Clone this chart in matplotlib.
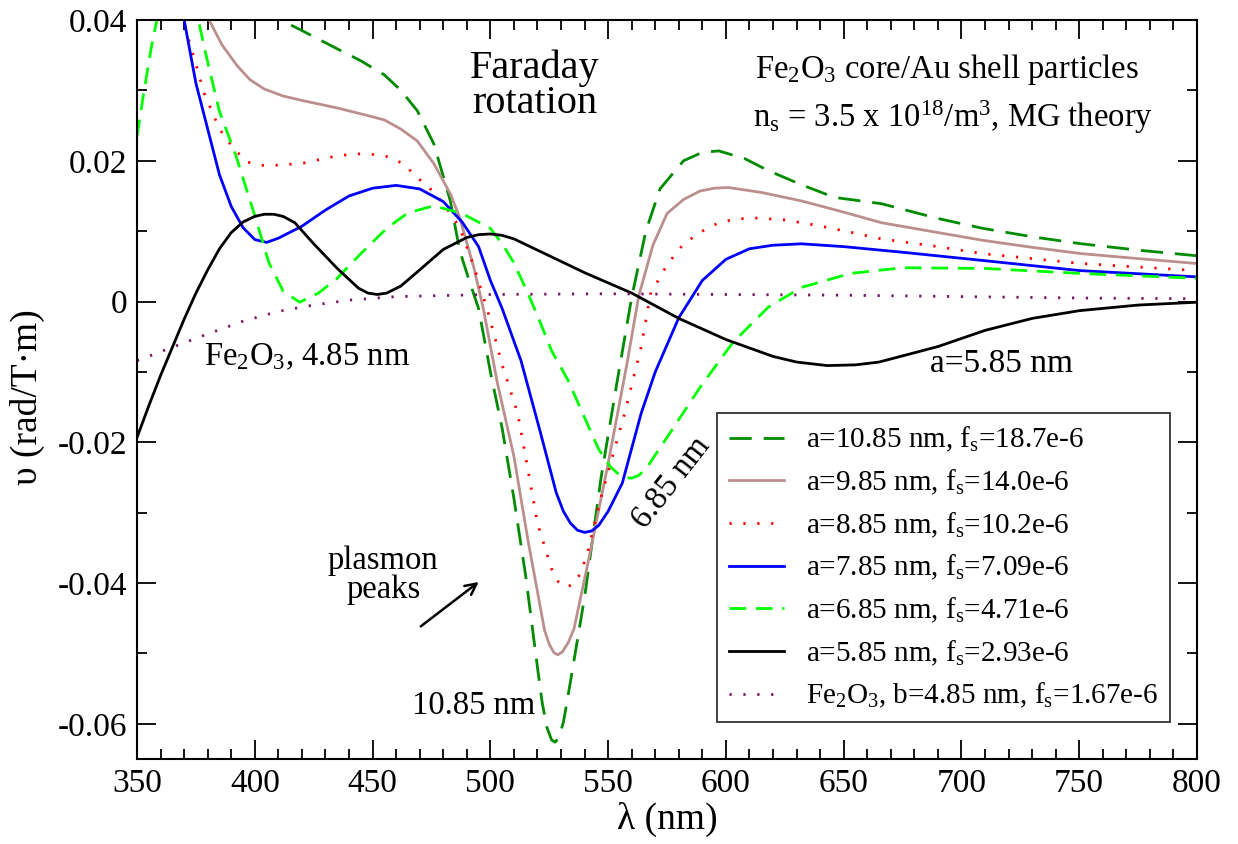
import numpy as np
import matplotlib
matplotlib.use("Agg")
import matplotlib.pyplot as plt
from matplotlib.ticker import MultipleLocator

plt.rcParams['font.family'] = ['Liberation Serif', 'DejaVu Serif']
plt.rcParams['mathtext.fontset'] = 'custom'
plt.rcParams['mathtext.rm'] = 'Liberation Serif'
plt.rcParams['mathtext.it'] = 'Liberation Serif:italic'
plt.rcParams['mathtext.bf'] = 'Liberation Serif:bold'

# ---- data (wavelength nm, rotation rad/T·m) ----
a1085_x = [405, 411, 420, 435, 445, 455, 462, 469, 476, 483, 487, 491, 495, 500, 505, 510, 515,
           520, 522, 524, 526, 527.5, 529, 531, 534, 540, 547, 554, 560, 566, 572, 582, 590, 597,
           608, 618, 632, 646, 666, 690, 709, 730, 751, 775, 800]
a1085_y = [0.0425, 0.040, 0.0385, 0.0359, 0.0342, 0.0322, 0.0300, 0.0271, 0.0224, 0.0143, 0.0072,
           0.0030, -0.0010, -0.0100, -0.0180, -0.0280, -0.0390, -0.0520, -0.0570, -0.0605,
           -0.0623, -0.0626, -0.0620, -0.0598, -0.0540, -0.0420, -0.0250, -0.0110, 0.0006, 0.0100,
           0.0160, 0.0200, 0.0212, 0.0214, 0.0203, 0.0186, 0.0166, 0.0148, 0.0139, 0.0118, 0.0104,
           0.0092, 0.0082, 0.0073, 0.0065]

a985_x = [376, 380.6, 386, 392.5, 398, 404, 412, 421, 435, 447, 455, 462, 469, 476, 483, 487, 493,
          497, 503, 510, 516, 523, 525, 527, 528.6, 530.5, 533, 535.5, 541.4, 550, 558, 563, 569,
          575, 582, 589, 595, 601, 615, 632, 650, 666, 690, 709, 730, 751, 775, 800]
a985_y = [0.047, 0.040, 0.0365, 0.0335, 0.0315, 0.0302, 0.0292, 0.0285, 0.0275, 0.0265, 0.0258,
          0.0245, 0.0228, 0.0196, 0.0153, 0.0119, 0.0048, -0.0010, -0.0116, -0.0220, -0.0340,
          -0.0467, -0.0487, -0.0499, -0.0502, -0.0498, -0.0485, -0.0465, -0.0372, -0.0230,
          -0.0088, 0.0008, 0.0080, 0.0125, 0.0145, 0.0157, 0.0161, 0.0162, 0.0155, 0.0143, 0.0127,
          0.0112, 0.0098, 0.0087, 0.0077, 0.0068, 0.0061, 0.0054]

a885_x = [368, 371, 378.5, 385, 391, 397, 404, 412, 421, 432, 442, 450, 456, 463, 469, 474, 479,
          483, 487, 493, 499, 505, 511.6, 516, 520, 526, 529, 532, 535, 538, 541, 547, 557, 564,
          568, 575, 582, 590, 597, 604, 611, 625, 639, 655, 666, 690, 709, 730, 751, 775, 800]
a885_y = [0.043, 0.0383, 0.0296, 0.0245, 0.0217, 0.0198, 0.0193, 0.0194, 0.0197, 0.0205, 0.0210,
          0.0209, 0.0206, 0.0196, 0.0176, 0.0162, 0.0143, 0.0125, 0.0105, 0.0050, -0.0015,
          -0.0090, -0.0159, -0.0240, -0.0315, -0.0380, -0.0399, -0.0406, -0.0402, -0.0388,
          -0.0360, -0.0278, -0.0159, -0.0065, 0.0011, 0.0052, 0.0082, 0.0100, 0.0112, 0.0117,
          0.0119, 0.0116, 0.0108, 0.0097, 0.0089, 0.0078, 0.0068, 0.0061, 0.0054, 0.0049, 0.0044]

a785_x = [365, 370, 375, 380, 385, 390, 395, 400, 405, 410, 420, 430, 440, 450, 460, 470, 480,
          488, 495, 500, 505, 513, 521, 528, 531, 534, 537, 540, 543, 546, 550, 556, 564, 570,
          580, 590, 600, 610, 620, 632, 650, 675, 710, 750, 800]
a785_y = [0.048, 0.040, 0.031, 0.0245, 0.0180, 0.0135, 0.0105, 0.0088, 0.0084, 0.0090, 0.0107,
          0.0130, 0.0150, 0.0161, 0.0165, 0.0160, 0.0142, 0.0113, 0.0078, 0.0030, -0.0010,
          -0.0084, -0.0183, -0.0272, -0.0298, -0.0315, -0.0325, -0.0328, -0.0326, -0.0318,
          -0.0298, -0.0258, -0.0159, -0.0100, -0.0023, 0.0030, 0.0060, 0.0075, 0.0080, 0.0082,
          0.0078, 0.0070, 0.0058, 0.0044, 0.0035]

a685_x = [350, 353, 356, 359, 362, 367, 372, 376, 380, 385, 392, 400, 406, 412, 419, 427, 435,
          445, 456, 465, 476, 488, 500, 505, 510, 516, 520, 526, 533, 540, 546, 551, 554, 557,
          560, 563, 566, 575, 589, 603, 618, 632, 653, 675, 710, 750, 800]
a685_y = [0.0235, 0.030, 0.036, 0.041, 0.045, 0.047, 0.045, 0.040, 0.034, 0.027, 0.0207, 0.0122,
          0.0055, 0.0015, -0.0001, 0.0012, 0.0033, 0.0068, 0.0104, 0.0126, 0.0136, 0.0125, 0.0104,
          0.0082, 0.0055, 0.0011, -0.0020, -0.0070, -0.0112, -0.0165, -0.0210, -0.0235, -0.0244,
          -0.0250, -0.0251, -0.0247, -0.0238, -0.0193, -0.0122, -0.0058, -0.0008, 0.0020, 0.0040,
          0.0048, 0.0047, 0.0040, 0.0033]

a585_x = [350, 355, 360, 365, 370, 375, 380, 385, 390, 395, 400, 404, 408, 412, 417, 425, 435,
          444, 448, 452, 456, 462, 470, 480, 490, 495, 500, 505, 510, 525, 540, 560, 580, 600,
          620, 630, 643, 655, 665, 690, 710, 730, 750, 775, 800]
a585_y = [-0.0193, -0.0148, -0.0105, -0.0065, -0.0025, 0.0012, 0.0045, 0.0075, 0.0098, 0.0113,
          0.0121, 0.0124, 0.0124, 0.0121, 0.0112, 0.0082, 0.0047, 0.0019, 0.0012, 0.0010, 0.0012,
          0.0022, 0.0045, 0.0074, 0.0091, 0.0095, 0.0096, 0.0094, 0.0089, 0.0065, 0.0041, 0.0012,
          -0.0024, -0.0054, -0.0078, -0.0086, -0.0091, -0.0090, -0.0086, -0.0064, -0.0041,
          -0.0024, -0.0013, -0.0005, -0.0001]

fe2o3_x = [350, 365, 380, 395, 410, 425, 440, 460, 500, 550, 600, 650, 700, 750, 800]
fe2o3_y = [-0.0084, -0.0065, -0.0046, -0.0028, -0.0014, -0.0005, 0.0002, 0.0007, 0.0010, 0.0011,
           0.0010, 0.0009, 0.0007, 0.0005, 0.0004]

labels = [r"a=10.85 nm, f$_\mathrm{s}$=18.7e-6",
          r"a=9.85 nm, f$_\mathrm{s}$=14.0e-6",
          r"a=8.85 nm, f$_\mathrm{s}$=10.2e-6",
          r"a=7.85 nm, f$_\mathrm{s}$=7.09e-6",
          r"a=6.85 nm, f$_\mathrm{s}$=4.71e-6",
          r"a=5.85 nm, f$_\mathrm{s}$=2.93e-6",
          r"Fe$_\mathrm{2}$O$_\mathrm{3}$, b=4.85 nm, f$_\mathrm{s}$=1.67e-6"]

fig = plt.figure(figsize=(12.38, 8.44), dpi=100)
ax = fig.add_axes([0.1107, 0.1007, 0.8562, 0.8756])

lw = 2.0
ax.plot(a1085_x, a1085_y, color=(0, 139/255, 0), lw=lw, dashes=(8, 4.3), label=labels[0])
ax.plot(a985_x, a985_y, color=(188/255, 143/255, 143/255), lw=lw, label=labels[1])
ax.plot(a885_x, a885_y, color=(1, 0, 0), lw=lw, dashes=(0.8, 4.2), label=labels[2])
ax.plot(a785_x, a785_y, color=(0, 0, 1), lw=lw, label=labels[3])
ax.plot(a685_x, a685_y, color=(0, 1, 0), lw=lw, dashes=(6, 3.5), label=labels[4])
ax.plot(a585_x, a585_y, color='black', lw=lw, label=labels[5])
ax.plot(fe2o3_x, fe2o3_y, color=(120/255, 20/255, 100/255), lw=lw, dashes=(0.8, 4.2), label=labels[6])

ax.set_xlim(350, 800)
ax.set_ylim(-0.065, 0.04)
ax.xaxis.set_major_locator(MultipleLocator(50))
ax.xaxis.set_minor_locator(MultipleLocator(10))
ax.yaxis.set_minor_locator(MultipleLocator(0.01))
ax.set_yticks([-0.06, -0.04, -0.02, 0, 0.02, 0.04])
ax.set_yticklabels(['-0.06', '-0.04', '-0.02', '0', '0.02', '0.04'])
ax.tick_params(which='both', direction='in', top=True, right=True, labelsize=24, width=1.3)
ax.tick_params(which='major', length=14, pad=7)
ax.tick_params(which='minor', length=7)
for s in ax.spines.values():
    s.set_linewidth(1.5)

ax.set_xlabel("λ (nm)", fontsize=27)
ax.set_ylabel("υ (rad/T·m)", fontsize=27)
ax.xaxis.set_label_coords(0.5, -0.058)
ax.yaxis.set_label_coords(-0.087, 0.49)

ax.text(519, 0.0307, "Faraday\nrotation", fontsize=29, ha='center', va='center', linespacing=0.92)
ax.text(612.5, 0.0330, r"Fe$_\mathrm{2}$O$_\mathrm{3}$ core/Au shell particles", fontsize=23.5, ha='left', va='center')
ax.text(611.5, 0.0262, r"n$_\mathrm{s}$ = 3.5 x 10$^\mathrm{18}$/m$^\mathrm{3}$, MG theory", fontsize=23.5, ha='left', va='center')
ax.text(378.5, -0.0078, r"Fe$_\mathrm{2}$O$_\mathrm{3}$, 4.85 nm", fontsize=23.5, ha='left', va='center')
ax.text(686.5, -0.0089, "a=5.85 nm", fontsize=24, ha='left', va='center')
ax.text(577, -0.0258, "6.85 nm", fontsize=23.5, ha='center', va='center', rotation=52)
ax.text(454.5, -0.0389, "plasmon\npeaks", fontsize=23.5, ha='center', va='center', linespacing=0.95)
ax.text(493, -0.0574, "10.85 nm", fontsize=23.5, ha='center', va='center')
ax.annotate("", xy=(496, -0.0396), xytext=(469.5, -0.0464),
            arrowprops=dict(arrowstyle='->', color='black', lw=1.8, mutation_scale=20))

leg = ax.legend(loc='lower right', bbox_to_anchor=(0.9745, 0.05), fontsize=21, frameon=True,
                fancybox=False, edgecolor='black', handlelength=1.9, labelspacing=0.46,
                borderpad=0.4, handletextpad=0.75, borderaxespad=0.0)
leg.get_frame().set_linewidth(1.3)

fig.savefig("out.png", dpi=100)
